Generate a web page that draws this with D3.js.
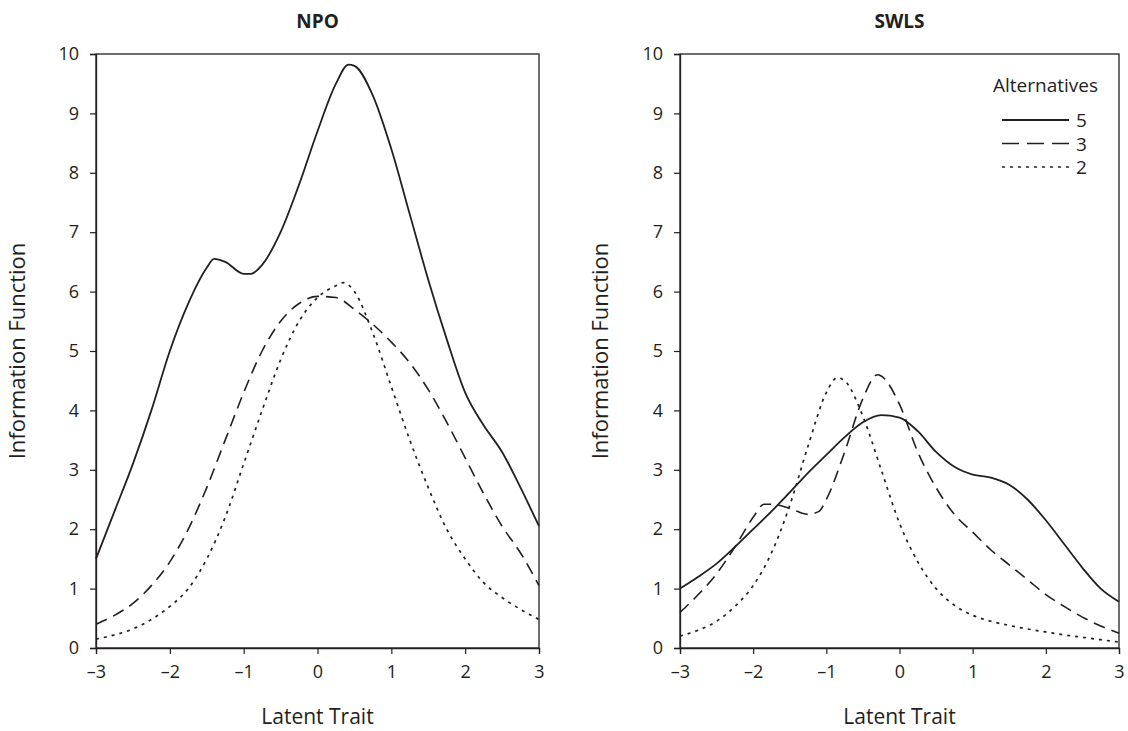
<!DOCTYPE html>
<html>
<head>
<meta charset="utf-8">
<script src="https://cdn.jsdelivr.net/npm/d3@7"></script>
<style>
  body { margin: 0; background: #fff; }
  text { font-family: "Open Sans", "Noto Sans", sans-serif; fill: #231f20; }
</style>
</head>
<body>
<script>
// Data
var npoTheta = [-3, -2.75, -2.5, -2.25, -2, -1.75, -1.5, -1.4, -1.25, -1, -0.9, -0.75, -0.5, -0.25, 0, 0.25, 0.42, 0.5, 0.75, 1, 1.25, 1.5, 1.75, 2, 2.25, 2.5, 2.75, 3];
var npo5 = [1.5, 2.3, 3.1, 4.0, 5.0, 5.8, 6.4, 6.55, 6.5, 6.3, 6.3, 6.45, 7.0, 7.8, 8.7, 9.5, 9.82, 9.8, 9.3, 8.4, 7.3, 6.2, 5.2, 4.3, 3.75, 3.3, 2.7, 2.05];

var npoTheta3 = [-3, -2.75, -2.5, -2.25, -2, -1.75, -1.5, -1.25, -1, -0.75, -0.5, -0.25, 0, 0.25, 0.5, 0.75, 1, 1.25, 1.5, 1.75, 2, 2.25, 2.5, 2.75, 3];
var npo3 = [0.4, 0.55, 0.75, 1.05, 1.45, 2.0, 2.7, 3.5, 4.3, 5.0, 5.5, 5.8, 5.92, 5.9, 5.7, 5.45, 5.15, 4.8, 4.35, 3.8, 3.2, 2.6, 2.05, 1.6, 1.05];

var npoTheta2 = [-3, -2.75, -2.5, -2.25, -2, -1.75, -1.5, -1.25, -1, -0.75, -0.5, -0.25, 0, 0.25, 0.35, 0.5, 0.75, 1, 1.25, 1.5, 1.75, 2, 2.25, 2.5, 2.75, 3];
var npo2 = [0.15, 0.22, 0.32, 0.48, 0.7, 1.0, 1.5, 2.2, 3.1, 4.0, 4.85, 5.5, 5.9, 6.1, 6.15, 6.0, 5.3, 4.4, 3.5, 2.7, 2.0, 1.5, 1.1, 0.85, 0.65, 0.48];

var swlsTheta5 = [-3, -2.75, -2.5, -2.25, -2, -1.75, -1.5, -1.25, -1, -0.75, -0.5, -0.25, 0, 0.25, 0.5, 0.75, 1, 1.25, 1.5, 1.75, 2, 2.25, 2.5, 2.75, 3];
var swls5 = [1.0, 1.2, 1.42, 1.7, 2.0, 2.3, 2.62, 2.95, 3.25, 3.55, 3.8, 3.92, 3.88, 3.65, 3.3, 3.05, 2.92, 2.87, 2.75, 2.5, 2.15, 1.75, 1.35, 1.0, 0.78];

var swlsTheta3 = [-3, -2.75, -2.5, -2.25, -2, -1.85, -1.75, -1.5, -1.25, -1.1, -1, -0.75, -0.5, -0.3, -0.25, 0, 0.25, 0.5, 0.75, 1, 1.25, 1.5, 1.75, 2, 2.25, 2.5, 2.75, 3];
var swls3 = [0.6, 0.9, 1.25, 1.7, 2.2, 2.42, 2.42, 2.35, 2.25, 2.3, 2.5, 3.3, 4.2, 4.6, 4.58, 4.1, 3.3, 2.7, 2.25, 1.95, 1.65, 1.4, 1.15, 0.9, 0.7, 0.52, 0.37, 0.25];

var swlsTheta2 = [-3, -2.75, -2.5, -2.25, -2, -1.75, -1.5, -1.25, -1, -0.85, -0.75, -0.5, -0.25, 0, 0.25, 0.5, 0.75, 1, 1.25, 1.5, 1.75, 2, 2.25, 2.5, 2.75, 3];
var swls2 = [0.2, 0.3, 0.45, 0.7, 1.05, 1.6, 2.4, 3.4, 4.3, 4.55, 4.5, 3.9, 3.0, 2.1, 1.45, 1.0, 0.72, 0.55, 0.45, 0.38, 0.32, 0.27, 0.22, 0.18, 0.14, 0.1];

var xTicks = [-3, -2, -1, 0, 1, 2, 3];
var yTicks = [0, 1, 2, 3, 4, 5, 6, 7, 8, 9, 10];
var alternatives = ["5", "3", "2"];

var width = 1128, height = 731;
var ink = "#231f20";
var dashes = { "5": null, "3": "12,7", "2": "3,5" };
var widths = { "5": 1.8, "3": 1.6, "2": 1.7 };

var svg = d3.select("body").append("svg")
    .attr("width", width)
    .attr("height", height);

function zip(xs, ys) {
  return xs.map(function(x, i) { return [x, ys[i]]; });
}

var panels = [
  { title: "NPO", left: 96, right: 539, labelX: 25,
    series: [["5", zip(npoTheta, npo5)], ["3", zip(npoTheta3, npo3)], ["2", zip(npoTheta2, npo2)]] },
  { title: "SWLS", left: 680, right: 1119, labelX: 608,
    series: [["5", zip(swlsTheta5, swls5)], ["3", zip(swlsTheta3, swls3)], ["2", zip(swlsTheta2, swls2)]] }
];

var plotTop = 54, plotBottom = 648;

panels.forEach(function(p) {
  var x = d3.scaleLinear().domain([-3, 3]).range([p.left, p.right]);
  var y = d3.scaleLinear().domain([0, 10]).range([plotBottom, plotTop]);
  var g = svg.append("g");

  // frame
  g.append("rect")
    .attr("x", p.left).attr("y", plotTop)
    .attr("width", p.right - p.left).attr("height", plotBottom - plotTop)
    .attr("fill", "none").attr("stroke", ink).attr("stroke-width", 1.3);

  // axes
  var xAxis = d3.axisBottom(x).tickValues(xTicks).tickSize(6).tickPadding(11)
    .tickFormat(function(d) { return d < 0 ? "\u2013" + Math.abs(d) : d; });
  var gx = g.append("g").attr("transform", "translate(0," + plotBottom + ")").call(xAxis);
  var yAxis = d3.axisLeft(y).tickValues(yTicks).tickSize(6).tickPadding(11);
  var gy = g.append("g").attr("transform", "translate(" + p.left + ",0)").call(yAxis);
  [gx, gy].forEach(function(a) {
    a.select(".domain").attr("stroke", ink).attr("stroke-width", 1.3);
    a.selectAll(".tick line").attr("stroke", ink).attr("stroke-width", 1.2);
    a.selectAll(".tick text").style("font-size", "18px").attr("fill", ink);
  });

  // curves
  var line = d3.line()
    .x(function(d) { return x(d[0]); })
    .y(function(d) { return y(d[1]); })
    .curve(d3.curveMonotoneX);
  p.series.forEach(function(s) {
    g.append("path")
      .attr("d", line(s[1]))
      .attr("fill", "none")
      .attr("stroke", ink)
      .attr("stroke-width", widths[s[0]])
      .attr("stroke-dasharray", dashes[s[0]]);
  });

  // titles
  var cx = (p.left + p.right) / 2;
  g.append("text")
    .attr("x", cx).attr("y", 28)
    .attr("text-anchor", "middle")
    .style("font-size", "19px").style("font-weight", "bold")
    .text(p.title);
  g.append("text")
    .attr("x", cx).attr("y", 724)
    .attr("text-anchor", "middle")
    .style("font-size", "21px")
    .text("Latent Trait");
  g.append("text")
    .attr("transform", "translate(" + p.labelX + "," + 351 + ") rotate(-90)")
    .attr("text-anchor", "middle")
    .style("font-size", "22px")
    .text("Information Function");
});

// legend (SWLS panel)
var lg = svg.append("g");
lg.append("text")
  .attr("x", 1098).attr("y", 92)
  .attr("text-anchor", "end")
  .style("font-size", "19px")
  .text("Alternatives");
alternatives.forEach(function(a, i) {
  var yy = 120 + i * 23.5;
  lg.append("line")
    .attr("x1", 1002).attr("x2", 1069)
    .attr("y1", yy).attr("y2", yy)
    .attr("stroke", ink)
    .attr("stroke-width", widths[a])
    .attr("stroke-dasharray", a === "3" ? "17,8" : dashes[a]);
  lg.append("text")
    .attr("x", 1076).attr("y", yy + 7)
    .style("font-size", "19px")
    .text(a);
});
</script>
</body>
</html>
